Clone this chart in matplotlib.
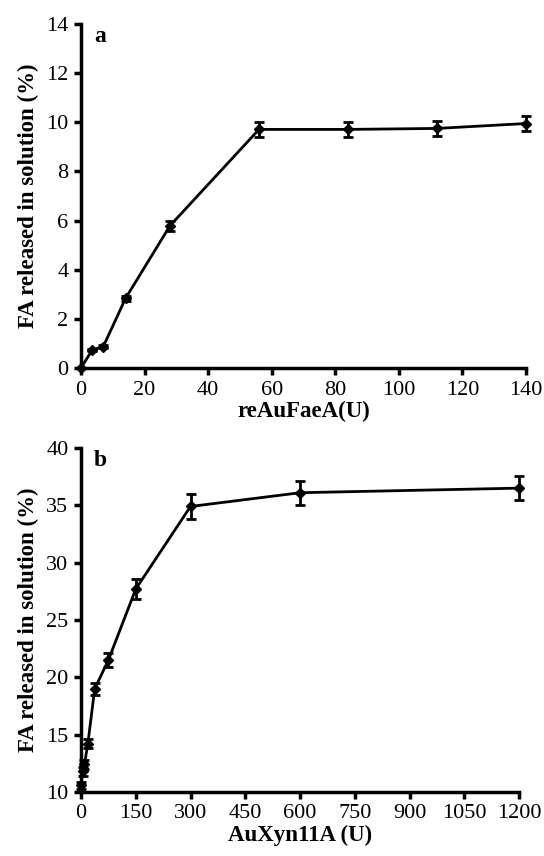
import matplotlib
matplotlib.use("Agg")
import matplotlib.pyplot as plt

# panel a: reAuFaeA dose
fae_units = [0, 3.5, 7, 14, 28, 56, 84, 112, 140]
fae_release = [0, 0.73, 0.87, 2.83, 5.79, 9.71, 9.71, 9.75, 9.95]
fae_err = [0, 0.05, 0.06, 0.1, 0.2, 0.3, 0.32, 0.3, 0.31]

# panel b: AuXyn11A dose
xyn_units = [0, 4.6875, 9.375, 18.75, 37.5, 75, 150, 300, 600, 1200]
xyn_release = [10.6, 11.8, 12.4, 14.2, 19.0, 21.5, 27.7, 34.9, 36.1, 36.5]
xyn_err = [0.3, 0.4, 0.4, 0.4, 0.5, 0.6, 0.85, 1.05, 1.05, 1.05]

plt.rcParams['font.family'] = ['Liberation Serif', 'DejaVu Serif']

W, H = 544, 856
fig = plt.figure(figsize=(W / 100, H / 100), dpi=100)

ax_a = fig.add_axes([81 / W, 1 - 368 / H, (526 - 81) / W, (368 - 24) / H])
ax_b = fig.add_axes([81 / W, 1 - 792 / H, (519 - 81) / W, (792 - 448) / H])


def style(ax):
    for s in ['top', 'right']:
        ax.spines[s].set_visible(False)
    for s in ['left', 'bottom']:
        ax.spines[s].set_linewidth(2.5)
    ax.tick_params(direction='out', length=5, width=2.5, labelsize=16, pad=4)
    ax.set_ylabel('FA released in solution (%)', fontsize=16.5, fontweight='bold', labelpad=5)


ax_a.errorbar(fae_units, fae_release, yerr=fae_err, color='black', lw=2,
              marker='D', ms=5, capsize=3.5, capthick=2, elinewidth=2, clip_on=False)
ax_a.set_xlim(0, 140)
ax_a.set_ylim(0, 14)
ax_a.set_xticks(range(0, 141, 20))
ax_a.set_yticks(range(0, 15, 2))
style(ax_a)
ax_a.set_xlabel('reAuFaeA(U)', fontsize=16.5, fontweight='bold', labelpad=1)
ax_a.text(0.03, 0.995, 'a', transform=ax_a.transAxes, fontsize=17, fontweight='bold',
          va='top', ha='left')

ax_b.errorbar(xyn_units, xyn_release, yerr=xyn_err, color='black', lw=2,
              marker='D', ms=5, capsize=3.5, capthick=2, elinewidth=2, clip_on=False)
ax_b.set_xlim(0, 1200)
ax_b.set_ylim(10, 40)
ax_b.set_xticks(range(0, 1201, 150))
ax_b.set_yticks(range(10, 41, 5))
style(ax_b)
ax_b.set_xlabel('AuXyn11A (U)', fontsize=16.5, fontweight='bold', labelpad=1)
ax_b.text(0.03, 0.995, 'b', transform=ax_b.transAxes, fontsize=17, fontweight='bold',
          va='top', ha='left')

fig.savefig('out.png', dpi=100)
